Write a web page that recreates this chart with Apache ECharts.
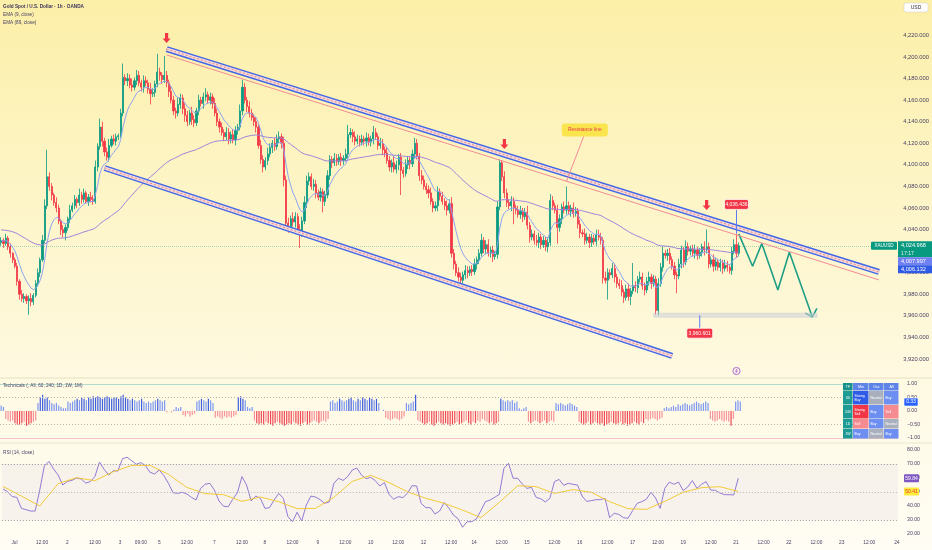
<!DOCTYPE html>
<html><head><meta charset="utf-8">
<script src="https://cdn.jsdelivr.net/npm/echarts@6/dist/echarts.min.js"></script>
<style>
html,body{margin:0;padding:0;}
body{width:932px;height:550px;overflow:hidden;background:linear-gradient(to bottom,#fcefa8 0%,#fdf4c3 30%,#fef8da 60%,#fffbea 80%,#fffdf4 100%);}
#c{width:932px;height:550px;}
</style></head><body><div id="c"></div>
<script>
// ---------- data ----------
const firstOpen = 4028;
const closes = [
4030,4027,4032,4024,4018,4012,4006,3992,3980,3976,3978,3974,3976,3973,3979,3990,4000,4012,4030,4062,
4089,4080,4072,4065,4060,4048,4040,4037,4042,4050,4058,4062,4068,4065,4072,4068,4074,4066,4070,4068,
4066,4098,4117,4135,4122,4112,4107,4118,4124,4122,4126,4127,4148,4181,4178,4180,4174,4172,4178,4183,
4176,4172,4178,4176,4170,4166,4167,4175,4186,4183,4179,4183,4176,4168,4160,4150,4148,4156,4162,4152,
4146,4140,4148,4142,4139,4150,4160,4157,4163,4165,4160,4163,4157,4148,4140,4135,4130,4126,4130,4124,
4128,4123,4132,4135,4150,4172,4160,4154,4148,4144,4140,4135,4118,4105,4098,4104,4110,4116,4120,4117,
4124,4126,4120,4086,4046,4042,4050,4047,4052,4040,4037,4048,4065,4085,4089,4080,4082,4074,4070,4075,
4066,4072,4090,4105,4102,4106,4103,4107,4104,4106,4110,4128,4130,4126,4122,4124,4121,4124,4122,4125,
4121,4124,4130,4126,4118,4120,4114,4111,4104,4098,4102,4096,4100,4107,4095,4092,4100,4104,4101,4110,
4120,4108,4090,4086,4080,4077,4074,4066,4060,4062,4075,4071,4066,4062,4058,4064,4018,4008,4000,3996,
3993,3998,4002,4000,4003,4001,4008,4012,4018,4030,4022,4026,4018,4021,4015,4017,4061,4102,4089,4074,
4065,4062,4066,4060,4058,4054,4057,4052,4056,4044,4033,4036,4030,4028,4033,4026,4030,4024,4028,4067,
4062,4058,4042,4050,4061,4058,4062,4057,4060,4055,4057,4045,4037,4036,4030,4033,4028,4032,4029,4035,
4033,4030,3995,3993,4000,3998,4004,3996,3990,3988,3982,3977,3985,3978,3983,3988,3986,3994,3996,3988,
3984,3992,3996,3990,3994,3965,3990,4005,4018,4016,4018,4012,4006,3998,3997,4008,4021,4010,4024,4020,
4022,4018,4021,4016,4019,4024,4021,4024,4008,4012,4006,4010,4005,4009,4004,4007,4005,4002,4020,4026,
4018,4024.968
];
const upWick = [
3,2,4,2,3,1,2,3,2,4,3,2,3,5,2,3,4,2,5,6,
25,4,3,2,5,3,2,4,3,2,5,3,4,2,6,3,4,2,3,5,
4,6,3,8,5,3,4,6,3,4,3,2,4,13,3,5,4,6,3,5,
4,3,5,4,3,6,4,3,17,4,3,18,4,3,5,4,3,6,4,3,
5,4,3,6,4,3,5,3,4,6,3,4,3,5,4,3,4,3,5,4,
3,5,4,3,6,7,4,3,5,4,3,4,3,5,4,3,6,4,3,5,
4,5,3,6,4,5,3,6,4,3,5,4,6,5,4,3,5,4,3,4,
3,4,5,4,3,5,4,3,4,3,5,9,4,3,5,4,3,4,3,5,
4,3,6,4,3,5,4,3,5,4,3,6,4,3,4,3,5,4,3,4,
5,4,3,5,4,3,4,5,3,4,5,3,4,3,5,4,6,4,3,5,
4,3,5,4,3,4,5,3,4,6,3,4,5,3,4,3,5,3,2,5,
4,3,5,4,3,4,5,3,4,6,3,4,3,5,4,3,4,3,5,6,
4,3,5,4,3,5,18,4,3,5,4,3,4,3,5,4,3,4,3,5,
5,4,3,6,4,3,5,4,3,4,5,3,4,5,3,21,4,3,5,4,
3,4,5,3,4,3,5,4,6,3,4,5,3,4,3,5,4,3,6,4,
3,4,5,3,4,3,5,16,4,3,5,4,3,4,3,5,4,3,4,5,
10.4,3
];
const dnWick = [
3,4,2,3,4,3,2,4,5,3,4,3,13,4,3,2,3,4,2,3,
3,4,5,3,4,3,5,4,7,3,4,2,3,5,3,4,3,2,4,3,
3,2,4,3,5,4,3,4,2,3,4,3,2,3,4,5,3,4,3,4,
3,4,5,3,4,10,3,4,3,5,4,3,4,5,3,4,5,3,4,5,
6,4,3,5,4,3,4,3,5,4,3,4,5,3,4,5,3,4,3,5,
4,3,5,4,3,4,3,5,4,3,4,5,3,4,5,3,4,3,5,4,
3,4,5,6,4,5,3,4,5,3,14,4,3,5,4,3,4,5,3,4,
10,4,3,4,5,3,4,3,5,4,3,4,3,5,4,3,4,3,4,5,
3,4,5,3,4,3,5,4,3,4,5,3,4,5,23,4,3,4,5,3,
4,3,5,4,3,4,5,3,4,3,5,4,3,4,5,3,4,5,3,4,
5,3,4,5,3,4,3,5,4,3,4,5,3,4,5,3,4,3,4,5,
4,3,5,15,4,3,4,5,3,4,5,3,4,3,5,4,3,4,5,3,
4,3,15,4,5,3,4,3,5,4,3,4,5,3,4,3,5,4,3,4,
3,4,5,3,18,4,3,5,4,3,4,5,3,4,8,3,4,5,3,4,
5,3,4,5,3,4.4,5,3,4,3,5,4,3,4,16,3,4,5,3,4,
4,3,5,4,3,4,5,3,4,3,5,4,3,4,5,3,4,3,4,3,
4,3
];
const ema89Seed = 4040;
// Technicals rating per bar
const tech = [
0.2,0.15,-0.3,-0.35,-0.4,-0.35,-0.45,-0.5,-0.5,-0.45,-0.4,-0.55,-0.5,-0.45,-0.4,-0.35,0.3,0.5,0.6,0.45,
0.5,0.4,0.3,0.25,0.3,0.2,0.15,0.1,0.1,0.35,0.3,0.35,0.4,0.45,0.4,0.5,0.45,0.4,0.5,0.45,
0.55,0.5,0.55,0.5,0.45,0.5,0.55,0.5,0.45,0.5,0.5,0.45,0.55,0.6,0.5,0.45,0.4,0.45,0.4,0.35,
0.4,0.45,0.35,0.3,0.35,0.3,0.35,0.4,0.45,0.4,0.35,0.4,-0.05,0,-0.05,0.05,0.15,0.1,0.15,-0.15,
-0.2,-0.1,-0.2,-0.15,-0.1,0.35,0.4,0.45,0.4,0.35,0.45,0.4,0.3,-0.25,-0.2,-0.25,-0.3,-0.2,-0.25,-0.2,
-0.25,-0.2,-0.15,0.5,0.55,0.45,0.4,0.15,0.1,0.15,-0.35,-0.45,-0.5,-0.45,-0.5,-0.4,-0.45,-0.5,-0.55,-0.45,
-0.4,-0.45,-0.5,-0.55,-0.5,-0.45,-0.5,-0.4,-0.45,-0.5,-0.55,-0.45,-0.4,-0.5,-0.45,-0.4,-0.35,-0.4,-0.45,-0.4,
-0.35,-0.4,-0.3,0.35,0.4,0.3,0.35,0.45,0.4,0.35,0.4,0.45,0.5,0.4,0.35,0.45,0.4,0.5,0.45,0.4,
0.5,0.45,0.4,0.45,0.3,0,0.05,-0.25,-0.3,-0.35,-0.3,-0.25,-0.3,-0.35,-0.3,-0.2,0.3,0.25,0.3,0.35,
0.6,-0.35,-0.4,-0.45,-0.5,-0.45,-0.4,-0.5,-0.55,-0.45,-0.4,-0.45,-0.5,-0.45,-0.5,-0.55,-0.5,-0.45,-0.4,-0.5,
-0.45,-0.4,-0.35,-0.45,-0.5,-0.4,-0.45,-0.35,-0.4,-0.3,-0.35,-0.4,-0.45,-0.4,-0.5,-0.45,-0.4,0.45,0.4,0.35,
0.4,0.35,0.4,0.3,0.35,0.1,0.05,0.1,0.15,-0.4,-0.45,-0.4,-0.35,-0.4,-0.45,-0.4,-0.35,-0.45,-0.4,-0.35,
-0.4,0.3,0.25,0.3,0.25,0.2,0.25,0.3,0.25,0.2,0.15,-0.4,-0.45,-0.5,-0.45,-0.4,-0.5,-0.45,-0.4,-0.45,
-0.5,-0.45,-0.55,-0.5,-0.45,-0.4,-0.45,-0.5,-0.45,-0.4,-0.5,-0.45,-0.55,-0.5,-0.45,-0.4,-0.45,-0.5,-0.4,-0.45,
-0.3,-0.35,-0.3,-0.25,-0.3,-0.35,-0.3,-0.25,0.1,0.15,0.1,0.15,0.2,0.15,0.25,0.2,0.25,0.3,0.25,0.2,
0.25,0.3,0.35,0.3,0.25,0.3,0.35,0.3,-0.3,-0.35,-0.4,-0.35,-0.3,-0.35,-0.4,-0.35,-0.4,-0.55,-0.3,0.35,
0.4,0.35
];
// RSI(14) read every 2 bars
const rsiStep = 2;
const rsi = [
52.2,50.2,46.7,46.2,38.3,37.4,36.4,36.4,51.4,68.6,
71.9,66.4,62.1,55,57.6,58.3,60,59.3,56.4,57.4,
61,71.4,66.2,62.1,65.2,65,73.8,74.8,72.4,69.8,
71,68.8,64,62.9,65.7,61.7,56.2,49.5,49,49.8,
48.6,46.2,44.3,52.6,55.5,56.2,51.4,43.6,39.8,39.5,
44.8,49.5,61,55,43.6,47.1,45.5,38.3,38.8,44.3,
49,45.5,32.4,28.8,35.5,29.3,40.7,47.1,46.4,44.5,
41.9,42.9,56.2,59.8,58.3,61,65.7,67.1,62.1,59.5,
60.5,58.1,54.3,56.7,48.3,44.8,46.7,46,49,54.5,
54.3,41.9,38.8,38.8,34.3,36.4,42.4,38.6,33.6,31,
24.8,28.8,28.8,30.7,36.7,43.1,44.3,46.2,48.3,66.9,
70.5,59.8,59.8,55.7,52.6,53.3,46.2,45.2,42.9,45.5,
57.4,59,54.8,56.2,55.5,55,47.1,43.3,43.8,44.5,
44.5,45.5,31.7,34.8,34,31.7,31.2,36.7,41.9,43.1,
44.8,49.8,45.7,38.3,52.6,57.1,55.5,57.1,51,53.6,
58.1,52.6,55.5,57.4,51.4,51.2,49.3,48.1,48.1,47.9,
59.84
];
// RSI-based MA read every 8 bars
const rsiMaStep = 8;
const rsiMa = [
54,47.1,40,56,60.2,58.1,64.5,69,69,62.6,
53.3,48.8,48.1,43.3,46.4,43.1,38.1,38.3,46.2,57.6,
61.9,56.7,50.2,45.5,41.9,37.1,31.7,42.6,54.5,53.8,
49,51.7,49.8,43.1,38.1,37.6,43.3,49.8,53.1,53.8,
50.41
];
const tickLabels = ['Jul','12:00','2','12:00','3','09:00','5','12:00','7','12:00','8','12:00','9','12:00','10','12:00','12','12:00','14','12:00','15','12:00','16','12:00','17','12:00','19','12:00','21','12:00','22','12:00','23','12:00','24'];
const tickBars = [5,17,28,40,51,60,68,80,92,104,114,126,137,149,160,172,183,195,205,217,228,240,251,263,274,285,296,308,319,331,342,354,365,377,389];
const barCount = 390;
// drawings (bar index, price)
const channelUpper = [[72,4207.4],[382,4000.7]];
const channelPink = [[72,4201.9],[382,3993.3]];
const channelLower = [[45,4097.1],[292,3922.8]];
const arrowMarks = [[72,4217.6],[219,4119.3],[307,4062.8]];
const projBars = [321,327,331,338,343,353];
const projPrices = [4036,4006,4027,3984,4019,3959];
const arrowHeadBars = [350,353,355];
const arrowHeadPrices = [3962.5,3959,3967];
const lastPrice = 4024.968, lastHigh = 4036.436, swingLow = 3960.601;
const emaLabelA = 4007.997, emaLabelB = 4006.132;
const techLast = 0.33, rsiLast = 59.84, rsiMaLast = 50.41;
const tableHead = ['TF','Min','Osc','All'];
const tableRows = [['60','Strong\nBuy','Neutral','Buy'],['240','Strong\nSell','Buy','Sell'],['1D','Sell','Buy','Neutral'],['1W','Buy','Neutral','Buy']];

// ---------- build ----------
const cats = Array.from({length: barCount}, (_, i) => String(i));
const labelAt = {}; tickBars.forEach((b, k) => labelAt[b] = tickLabels[k]);
const candles = closes.map((c, i) => { const o = i ? closes[i-1] : firstOpen; return [o, c, Math.min(o,c) - dnWick[i], Math.max(o,c) + upWick[i]]; });
function ema(src, n, seed){ const k = 2/(n+1); let e = seed; return src.map(v => (e = e + k*(v - e))); }
const ema9 = ema(closes, 9, closes[0]);
const ema89 = ema(closes, 89, ema89Seed);
const rsiLine = new Array(barCount).fill(null); rsi.forEach((v,k)=>{ rsiLine[Math.min(k*rsiStep, closes.length-1)] = v; });
const rsiMaLine = new Array(barCount).fill(null); rsiMa.forEach((v,k)=>{ rsiMaLine[Math.min(k*rsiMaStep, closes.length-1)] = v; });
const proj = projBars.map((b,i)=>[b, projPrices[i]]);
const arrowHead = arrowHeadBars.map((b,i)=>[b, arrowHeadPrices[i]]);

const FONT = '"Liberation Sans", Arial, sans-serif';
const TXT = '#463f63';
const fmtPrice = v => v.toLocaleString('en-US',{minimumFractionDigits:3, maximumFractionDigits:3});

const chart = echarts.init(document.getElementById('c'), null, {renderer:'canvas'});
const seg = (p, style) => [{coord: p[0], lineStyle: style}, {coord: p[1]}];
const bandStyles = [
  {color:'#4267e6', width:6, type:'solid'},
  {color:'#f9dcd6', width:3, type:'solid'},
  {color:'#e98585', width:1, type:[2,2]}
];
const xAxisBase = {type:'category', data:cats, boundaryGap:true, axisLine:{show:false}, axisTick:{show:false}, axisLabel:{show:false}, splitLine:{show:false}};

chart.setOption({
  animation:false,
  backgroundColor:'transparent',
  grid:[
    {left:0, width:898, top:13.86, height:366.7},
    {left:0, width:898, top:384, height:54},
    {left:0, width:898, top:443, height:91}
  ],
  xAxis:[
    Object.assign({gridIndex:0}, xAxisBase),
    Object.assign({gridIndex:1}, xAxisBase),
    Object.assign({}, xAxisBase, {gridIndex:2, axisLabel:{show:true, interval:0, margin:6, fontSize:4.8, fontFamily:FONT, color:TXT, formatter:(v,i)=>labelAt[i]||''}})
  ],
  yAxis:[
    {gridIndex:0, type:'value', position:'right', min:3900, max:4240, interval:20, axisLine:{show:false}, axisTick:{show:false}, splitLine:{show:false},
     axisLabel:{showMinLabel:false, showMaxLabel:false, margin:7, fontSize:5.8, fontFamily:FONT, color:TXT, formatter:fmtPrice}},
    {gridIndex:1, type:'value', position:'right', min:-1, max:1, interval:0.5, axisLine:{show:false}, axisTick:{show:false}, splitLine:{show:false},
     axisLabel:{margin:9, fontSize:5.2, fontFamily:FONT, color:TXT, formatter:v=>(v<0?'\u2212':'')+Math.abs(v).toFixed(2)}},
    {gridIndex:2, type:'value', position:'right', min:20, max:85, interval:10, axisLine:{show:false}, axisTick:{show:false}, splitLine:{show:false},
     axisLabel:{showMaxLabel:false, margin:9, fontSize:5.2, fontFamily:FONT, color:TXT, formatter:v=>v.toFixed(2)}}
  ],
  series:[
    {type:'candlestick', xAxisIndex:0, yAxisIndex:0, data:candles, barWidth:'72%',
     itemStyle:{color:'#089981', color0:'#f23645', borderColor:'#089981', borderColor0:'#f23645', borderWidth:0.8},
     markLine:{silent:true, symbol:['none','none'], label:{show:false}, emphasis:{disabled:true},
       data:[
         {yAxis:lastPrice, lineStyle:{color:'rgba(8,153,129,0.35)', width:1, type:[1,1]}},
         seg(channelPink, {color:'#f28b95', width:1, type:'solid'}),
         seg(channelUpper, bandStyles[0]), seg(channelUpper, bandStyles[1]), seg(channelUpper, bandStyles[2]),
         seg(channelLower, bandStyles[0]), seg(channelLower, bandStyles[1]), seg(channelLower, bandStyles[2])
       ]},
     markPoint:{silent:true, symbol:'path://M3,0 L7,0 L7,6 L10,6 L5,11 L0,6 L3,6 Z', symbolSize:[8,10], itemStyle:{color:'#f23645'}, label:{show:false},
       data: arrowMarks.map(p=>({coord:p}))}
    },
    {type:'line', xAxisIndex:0, yAxisIndex:0, data:ema9, showSymbol:false, symbol:'none', lineStyle:{color:'#8ea2f2', width:1}, silent:true},
    {type:'line', xAxisIndex:0, yAxisIndex:0, data:ema89, showSymbol:false, symbol:'none', lineStyle:{color:'#9d82db', width:1}, silent:true},
    {type:'line', xAxisIndex:0, yAxisIndex:0, data:proj, showSymbol:false, symbol:'none', lineStyle:{color:'#1f9e86', width:1.6}, silent:true},
    {type:'line', xAxisIndex:0, yAxisIndex:0, data:arrowHead, showSymbol:false, symbol:'none', lineStyle:{color:'#1f9e86', width:1.6}, silent:true},
    {type:'bar', xAxisIndex:1, yAxisIndex:1, data:tech, barWidth:1.2, silent:true,
     itemStyle:{color:p=>{const v=p.value; if(v>=0) return v>=0.45?'#3d5fe0':'#7c98f2'; return v<=-0.45?'#f04a57':'#f5939b';}},
     markLine:{silent:true, symbol:['none','none'], label:{show:false},
       data:[
         {yAxis:1, lineStyle:{color:'#b4dccf', width:1, type:'solid'}},
         {yAxis:0.5, lineStyle:{color:'#b9b4b0', width:1, type:[1,2]}},
         {yAxis:-0.5, lineStyle:{color:'#b9b4b0', width:1, type:[1,2]}},
         {yAxis:-1, lineStyle:{color:'#f6c3c8', width:1, type:'solid'}}
       ]}
    },
    {type:'line', xAxisIndex:2, yAxisIndex:2, data:rsiLine, connectNulls:true, showSymbol:false, symbol:'none', lineStyle:{color:'#8a6bd1', width:0.9}, silent:true,
     markArea:{silent:true, itemStyle:{color:'rgba(126,87,194,0.06)'}, data:[[{yAxis:70},{yAxis:30}]]},
     markLine:{silent:true, symbol:['none','none'], label:{show:false},
       data:[
         {yAxis:70, lineStyle:{color:'#9a96a0', width:1, type:[1,2]}},
         {yAxis:50, lineStyle:{color:'#b6b2b8', width:1, type:[1,2]}},
         {yAxis:30, lineStyle:{color:'#9a96a0', width:1, type:[1,2]}}
       ]}
    },
    {type:'line', xAxisIndex:2, yAxisIndex:2, data:rsiMaLine, connectNulls:true, showSymbol:false, symbol:'none', lineStyle:{color:'#f3c623', width:0.9}, silent:true}
  ]
});

// ---------- annotations positioned through the axes ----------
const X = i => chart.convertToPixel({xAxisIndex:0}, i);
const Y = p => chart.convertToPixel({yAxisIndex:0}, p);
const Y1 = v => chart.convertToPixel({yAxisIndex:1}, v);
const Y2 = v => chart.convertToPixel({yAxisIndex:2}, v);
const G = [];
function txt(x, y, s, o){ G.push({type:'text', x, y, z:20, silent:true, style:Object.assign({text:s, fill:TXT, fontSize:5, fontFamily:FONT, align:'left', verticalAlign:'middle'}, o||{})}); }
function box(x, y, w, h, fill, o){ G.push({type:'rect', z:19, silent:true, shape:{x, y, width:w, height:h, r:(o&&o.r)||0}, style:Object.assign({fill}, (o&&o.style)||{})}); }
function ln(x1,y1,x2,y2,stroke,w){ G.push({type:'line', z:18, silent:true, shape:{x1,y1,x2,y2}, style:{stroke, lineWidth:w||1}}); }

// legend
txt(3, 7, 'Gold Spot / U.S. Dollar \u00b7 1h \u00b7 OANDA', {fontSize:4.7, fontWeight:'bold', fill:'#3c3458'});
txt(3, 15, 'EMA (9, close)', {fontSize:4.7});
txt(3, 23, 'EMA (89, close)', {fontSize:4.7});
txt(3, 386, 'Technicals (, All, 60, 240, 1D, 1W, 1M)', {fontSize:4.7});
txt(3, 453, 'RSI (14, close)', {fontSize:4.7});
// pane separators
ln(0, 378, 932, 378, '#e6dfc2', 1);
ln(0, 443, 932, 443, '#ece6cc', 1);
// USD box
box(904, 3, 24, 9, '#ffffff', {r:2, style:{stroke:'#d8d4cc', lineWidth:0.6}});
txt(916, 7.5, 'USD', {align:'center', fontSize:5, fill:'#2a2e39'});

// right price labels
const yc = Y(lastPrice);
box(871, yc-4, 26, 8, '#089981', {r:1});
txt(884, yc, 'XAUUSD', {align:'center', fontSize:4.6, fill:'#ffffff'});
box(898, yc-4.5, 34, 16, '#089981');
txt(901, yc-0.5, fmtPrice(lastPrice), {fontSize:5.6, fill:'#ffffff'});
txt(901, yc+7.5, '17:17', {fontSize:5.2, fill:'#d9f2ec'});
box(898, yc+11.5, 34, 8, '#6f80f2');
txt(901, yc+15.5, fmtPrice(emaLabelA), {fontSize:5.6, fill:'#ffffff'});
box(898, yc+19.5, 34, 8, '#2f5ae5');
txt(901, yc+23.5, fmtPrice(emaLabelB), {fontSize:5.6, fill:'#ffffff'});

// high label
const hx = X(320), hy = Y(lastHigh);
ln(hx, hy-24, hx, hy, '#5b7cf5', 1);
box(hx-12, hy-34, 24, 10, '#f23645', {r:2, style:{stroke:'#ffffff', lineWidth:0.8}});
txt(hx, hy-29, fmtPrice(lastHigh), {align:'center', fontSize:5, fill:'#ffffff'});
// swing-low range bar + label
const ly = Y(swingLow);
G.push({type:'rect', z:17, silent:true, shape:{x:X(284), y:ly-2, width:X(355)-X(284), height:4}, style:{fill:'rgba(205,210,220,0.55)', stroke:'rgba(175,185,200,0.7)', lineWidth:0.5}});
const lx = X(304);
ln(lx, ly, lx, ly+13, '#5b7cf5', 1);
box(lx-13, ly+13, 26, 10, '#f23645', {r:2, style:{stroke:'#ffffff', lineWidth:0.8}});
txt(lx, ly+18, fmtPrice(swingLow), {align:'center', fontSize:5, fill:'#ffffff'});
// callout
const cx = X(254), cy = Y(4132.3);
ln(cx-1, cy+6, X(246), Y(4084.5), '#f28b95', 1);
box(cx-23, cy-6.5, 46, 13, '#fbe54e', {r:3});
txt(cx, cy, 'Resistance line', {align:'center', fontSize:5, fill:'#e53950'});
// events icon
G.push({type:'circle', z:18, silent:true, shape:{cx:X(320), cy:371, r:3.6}, style:{fill:'#fff8e8', stroke:'#9c4fc9', lineWidth:0.8}});
G.push({type:'polyline', z:19, silent:true, shape:{points:[[X(320)+0.8,368.6],[X(320)-1,371.3],[X(320)+1,370.8],[X(320)-0.8,373.4]]}, style:{stroke:'#9c4fc9', lineWidth:0.7, fill:null}});

// technicals table
const colX=[843,853,869,884], colW=[10,16,15,15];
const rowY=[383,391,405,419,429], rowH=[8,14,14,10,10];
const rateColor = {'Strong\nBuy':'#2f5be6','Buy':'#6e8ff2','Neutral':'#a9afbd','Sell':'#f58a90','Strong\nSell':'#f23645'};
tableHead.forEach((h,c)=>{ box(colX[c], rowY[0], colW[c]-0.5, rowH[0]-0.5, c===0?'#16918b':'#5f84e8'); txt(colX[c]+colW[c]/2, rowY[0]+rowH[0]/2, h, {align:'center', fontSize:3.6, fill:'#ffffff'}); });
tableRows.forEach((row,r)=>{ row.forEach((cell,c)=>{ const y=rowY[r+1], hgt=rowH[r+1]; box(colX[c], y, colW[c]-0.5, hgt-0.5, c===0?'#1e9a94':rateColor[cell]); txt(colX[c]+(c===0?colW[c]/2:1.5), y+hgt/2, cell, {align:c===0?'center':'left', fontSize:3.5, lineHeight:4, fill:'#ffffff'}); }); });
// pane badges
const ty = Y1(techLast);
box(904, ty-4, 14, 8, '#2962ff', {r:1, style:{stroke:'#ffffff', lineWidth:0.6}});
txt(911, ty, techLast.toFixed(2), {align:'center', fontSize:5, fill:'#ffffff'});
const ry = Y2(rsiLast), my = Y2(rsiMaLast);
box(904, ry-4, 15, 8, '#7e57c2', {r:1});
txt(911.5, ry, rsiLast.toFixed(2), {align:'center', fontSize:5, fill:'#ffffff'});
box(904, my-4, 15, 8, '#ffeb3b', {r:1});
txt(911.5, my, rsiMaLast.toFixed(2), {align:'center', fontSize:5, fill:'#e53935'});

chart.setOption({graphic: G});
</script></body></html>
